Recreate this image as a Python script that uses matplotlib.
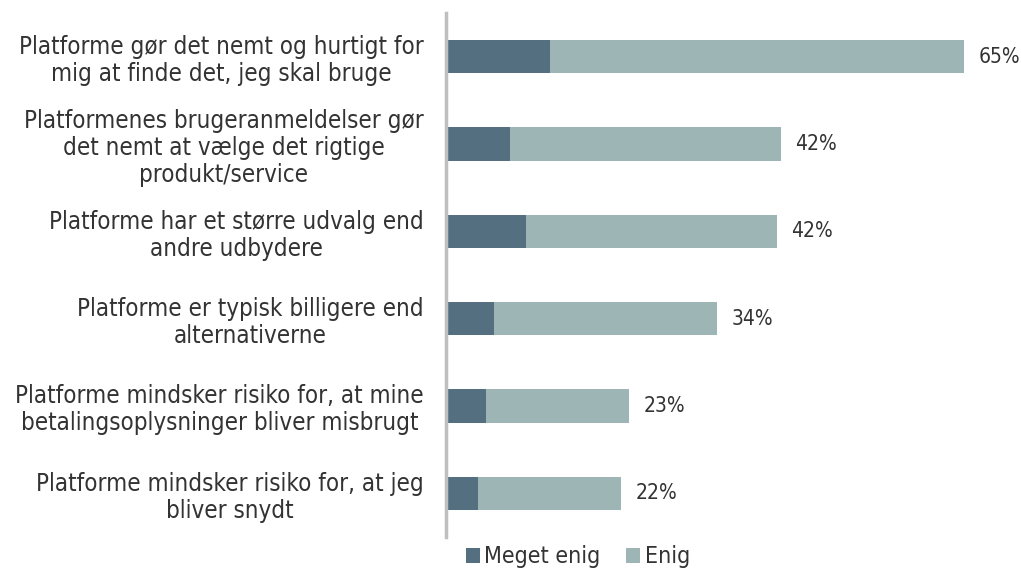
import matplotlib.pyplot as plt
import numpy as np

categories = [
    "Platforme gør det nemt og hurtigt for\nmig at finde det, jeg skal bruge",
    "Platformenes brugeranmeldelser gør\ndet nemt at vælge det rigtige\nprodukt/service",
    "Platforme har et større udvalg end\nandre udbydere",
    "Platforme er typisk billigere end\nalternativerne",
    "Platforme mindsker risiko for, at mine\nbetalingsoplysninger bliver misbrugt",
    "Platforme mindsker risiko for, at jeg\nbliver snydt",
]
meget_enig = [13, 8, 10, 6, 5, 4]
enig = [52, 34, 31.5, 28, 18, 18]
total_labels = ["65%", "42%", "42%", "34%", "23%", "22%"]

dark = "#546f80"
light = "#9eb5b5"
txt = "#333333"

fig = plt.figure(figsize=(10.21, 5.69), dpi=100)
ax = fig.add_axes([446 / 1021, 1 - 537 / 569, (1010 - 446) / 1021, (537 - 13) / 569])

y = np.arange(len(categories))
ax.barh(y, meget_enig, height=0.38, color=dark, label="Meget enig")
ax.barh(y, enig, left=meget_enig, height=0.38, color=light, label="Enig")

totals = np.array(meget_enig) + np.array(enig)
for yi, t, lab in zip(y, totals, total_labels):
    ax.text(t + 1.8, yi, lab, va="center", ha="left", fontsize=15,
            color=txt, family="DejaVu Sans", stretch="condensed")

ax.set_ylim(len(categories) - 0.5, -0.5)
ax.set_xlim(0, 70.8)
ax.set_yticks(y)
ax.set_yticklabels(categories, fontsize=17.3, color=txt, stretch="condensed",
                   multialignment="center", linespacing=1.15)
ax.tick_params(axis="y", length=0, pad=16)
ax.set_xticks([])
for s in ["top", "right", "bottom"]:
    ax.spines[s].set_visible(False)
ax.spines["left"].set_color("#bfbfbf")
ax.spines["left"].set_linewidth(2.5)

fig.legend(*ax.get_legend_handles_labels(), loc="center",
           bbox_to_anchor=(578 / 1021, 1 - 557 / 569), ncol=2, frameon=False,
           prop={"size": 16.7, "stretch": "condensed"}, handlelength=0.6,
           handleheight=0.6, handletextpad=0.2, columnspacing=1.1,
           labelcolor=txt, borderpad=0)

fig.savefig("out.png", dpi=100)
